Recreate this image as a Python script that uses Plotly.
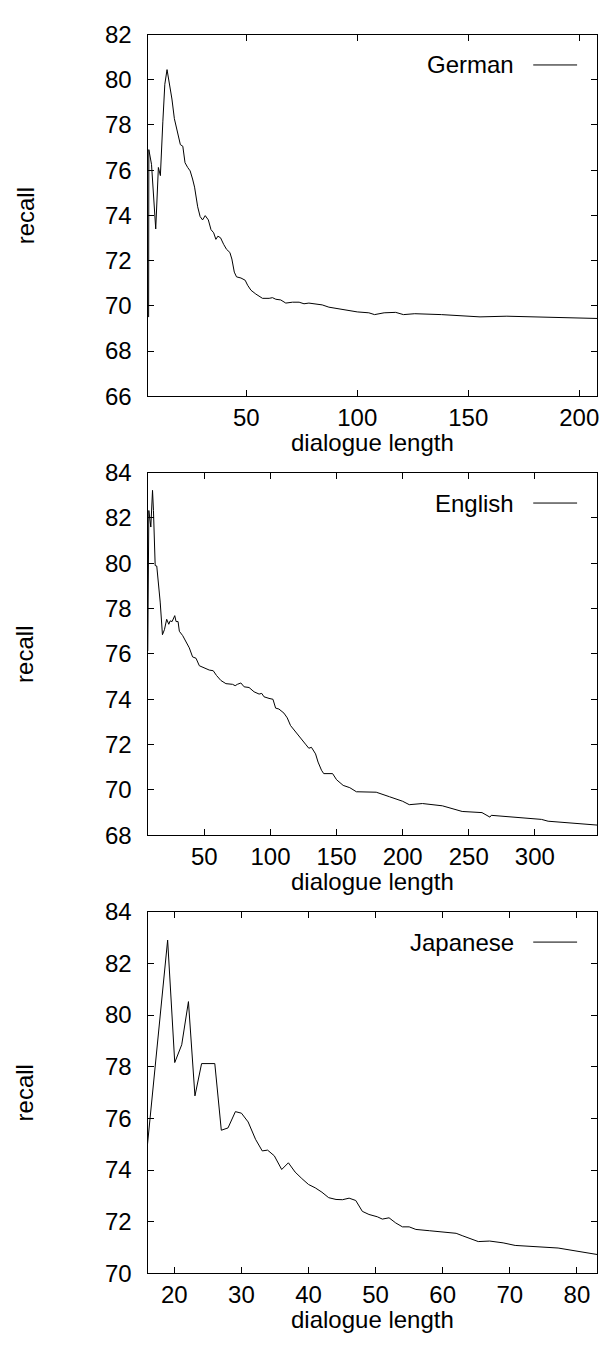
import plotly.graph_objects as go

W, H = 604, 1352

# ---------------- data ----------------
names = ["German", "English", "Japanese"]

german_x = [6.0, 6.1, 7.3, 9.2, 10.4, 11.3, 12.4, 13.3, 14.3, 15.4, 16.5, 17.6, 19.1, 20.3, 21.4,
            22.4, 23.6, 24.7, 25.8, 26.7, 28.1, 29.2, 30.3, 31.5, 32.9, 34.1, 35.3, 36.3, 37.2,
            38.4, 39.8, 41.1, 42.6, 43.5, 44.6, 45.6, 47.6, 49.5, 50.6, 52.1, 54.3, 57.3, 60.3,
            61.8, 63.3, 65.5, 67.8, 70.8, 73.8, 76.0, 78.2, 84.2, 87.2, 89.7, 94.8, 100.0, 105.2,
            107.8, 112.1, 117.3, 120.8, 125.9, 138.0, 150.1, 155.3, 167.4, 208.0]
german_y = [69.5, 76.91, 76.26, 73.40, 76.12, 75.76, 78.14, 79.80, 80.45, 79.87, 79.15, 78.28, 77.63,
            77.13, 77.06, 76.33, 76.12, 75.97, 75.61, 75.25, 74.38, 73.95, 73.80, 73.99, 73.80,
            73.37, 73.23, 72.94, 73.08, 73.01, 72.72, 72.50, 72.36, 72.07, 71.49, 71.28, 71.23,
            71.13, 70.91, 70.69, 70.52, 70.33, 70.33, 70.36, 70.29, 70.26, 70.12, 70.16, 70.16,
            70.09, 70.12, 70.04, 69.94, 69.90, 69.83, 69.73, 69.69, 69.61, 69.69, 69.71, 69.61,
            69.65, 69.61, 69.54, 69.51, 69.54, 69.44]

english_x = [7.2, 8.0, 9.5, 10.8, 11.5, 12.8, 14.0, 15.3, 16.6, 18.3, 19.8, 21.5, 23.1, 24.1, 25.6,
             27.6, 28.6, 30.1, 31.1, 33.6, 36.2, 38.6, 41.1, 43.7, 46.2, 49.9, 53.7, 56.7, 59.2,
             62.5, 66.3, 71.3, 73.3, 75.0, 77.6, 80.1, 83.8, 87.6, 91.4, 93.4, 95.1, 98.9, 101.9,
             103.9, 106.4, 110.2, 112.7, 115.2, 117.7, 120.2, 124.0, 126.5, 129.0, 131.0, 134.1,
             136.0, 138.6, 140.3, 147.0, 150.0, 155.0, 160.0, 165.0, 180.0, 190.0, 200.0, 205.0,
             215.0, 230.0, 245.0, 260.0, 266.0, 267.0, 300.0, 305.0, 310.0, 325.0, 347.0]
english_y = [76.13, 82.33, 81.60, 83.22, 82.33, 79.90, 79.88, 79.16, 78.29, 76.85, 77.07, 77.53, 77.31,
             77.46, 77.43, 77.69, 77.43, 77.43, 77.00, 76.81, 76.56, 76.27, 75.87, 75.81, 75.48,
             75.38, 75.29, 75.26, 75.05, 74.83, 74.69, 74.66, 74.60, 74.66, 74.72, 74.55, 74.52,
             74.33, 74.23, 74.26, 74.11, 74.04, 74.00, 73.61, 73.57, 73.39, 73.18, 72.84, 72.67,
             72.45, 72.24, 72.02, 71.84, 71.88, 71.59, 71.23, 70.87, 70.72, 70.72, 70.45, 70.20,
             70.10, 69.92, 69.90, 69.70, 69.50, 69.35, 69.40, 69.30, 69.05, 69.00, 68.80, 68.88,
             68.75, 68.70, 68.62, 68.55, 68.45]

japanese_x = [16.0, 19.0, 20.06, 21.1, 22.1, 23.07, 24.06, 26.03, 27.0, 28.0, 29.1, 30.0, 31.0, 32.1,
              33.1, 33.9, 34.9, 36.0, 37.0, 38.0, 39.0, 40.0, 41.0, 42.0, 43.0, 44.1, 45.06, 46.05,
              47.04, 48.02, 49.0, 50.25, 51.0, 52.0, 53.0, 54.0, 55.0, 56.0, 58.0, 60.0, 62.0, 63.0,
              65.3, 67.0, 69.0, 70.8, 77.2, 83.0]
japanese_y = [75.0, 82.9, 78.16, 78.85, 80.52, 76.87, 78.12, 78.12, 75.54, 75.63, 76.26, 76.20, 75.86,
              75.19, 74.74, 74.77, 74.55, 74.02, 74.28, 73.92, 73.67, 73.44, 73.31, 73.14, 72.93,
              72.86, 72.85, 72.91, 72.82, 72.40, 72.28, 72.19, 72.10, 72.15, 71.95, 71.80, 71.80,
              71.70, 71.65, 71.60, 71.55, 71.45, 71.23, 71.25, 71.18, 71.08, 70.98, 70.73]

x_ranges = [[5.5, 208], [7, 347], [16, 83]]
y_ranges = [[66, 82], [68, 84], [70, 84]]
x_ticks = [[50, 100, 150, 200], [50, 100, 150, 200, 250, 300], [20, 30, 40, 50, 60, 70, 80]]
y_ticks = [list(range(66, 83, 2)), list(range(68, 85, 2)), list(range(70, 85, 2))]

x_title = "dialogue length"
y_title = "recall"

# ---------------- layout geometry (pixels) ----------------
left_px, right_px = 148, 599
panels_px = [(21, 390), (468, 838), (916, 1285)]  # (top, bottom)

FONT = "Liberation Sans, Arial, Helvetica, sans-serif"
FS = 24

fig = go.Figure()
series = [(german_x, german_y), (english_x, english_y), (japanese_x, japanese_y)]

layout = dict(
    width=W, height=H,
    margin=dict(l=0, r=0, t=0, b=0),
    paper_bgcolor="white", plot_bgcolor="white",
    showlegend=False,
    font=dict(family=FONT, size=FS, color="black"),
)

annotations = []
shapes = []
for i, ((xs, ys), (top, bot)) in enumerate(zip(series, panels_px)):
    n = "" if i == 0 else str(i + 1)
    fig.add_trace(go.Scatter(x=xs, y=ys, mode="lines", name=names[i],
                             line=dict(color="black", width=1),
                             xaxis="x" + n, yaxis="y" + n))
    axis_common = dict(showline=True, linecolor="black", linewidth=1, mirror="ticks",
                       ticks="inside", ticklen=6, tickcolor="black", tickwidth=1,
                       showgrid=False, zeroline=False,
                       tickfont=dict(family=FONT, size=FS, color="black"))
    layout["xaxis" + n] = dict(axis_common, domain=[left_px / W, right_px / W],
                               range=x_ranges[i], tickvals=x_ticks[i],
                               anchor="y" + n, ticklabelstandoff=0)
    layout["yaxis" + n] = dict(axis_common, domain=[1 - bot / H, 1 - top / H],
                               range=y_ranges[i], tickvals=y_ticks[i],
                               anchor="x" + n, ticklabelstandoff=10)
    # axis titles
    annotations.append(dict(text=x_title, xref="paper", yref="paper",
                            x=((left_px + right_px) / 2) / W, y=1 - (bot + 47) / H,
                            xanchor="center", yanchor="middle", showarrow=False,
                            font=dict(family=FONT, size=FS, color="black")))
    annotations.append(dict(text=y_title, xref="paper", yref="paper",
                            x=25 / W, y=1 - ((top + bot) / 2) / H, textangle=-90,
                            xanchor="center", yanchor="middle", showarrow=False,
                            font=dict(family=FONT, size=FS, color="black")))
    # key (gnuplot style: text then line sample)
    ky = top + 31
    annotations.append(dict(text=names[i], xref="paper", yref="paper",
                            x=518 / W, y=1 - ky / H, xanchor="right", yanchor="middle",
                            showarrow=False, font=dict(family=FONT, size=FS, color="black")))
    shapes.append(dict(type="line", xref="paper", yref="paper",
                       x0=535 / W, x1=579 / W, y0=1 - ky / H, y1=1 - ky / H,
                       line=dict(color="black", width=1)))

layout["annotations"] = annotations
layout["shapes"] = shapes
fig.update_layout(**layout)
fig.write_html("out.html")
